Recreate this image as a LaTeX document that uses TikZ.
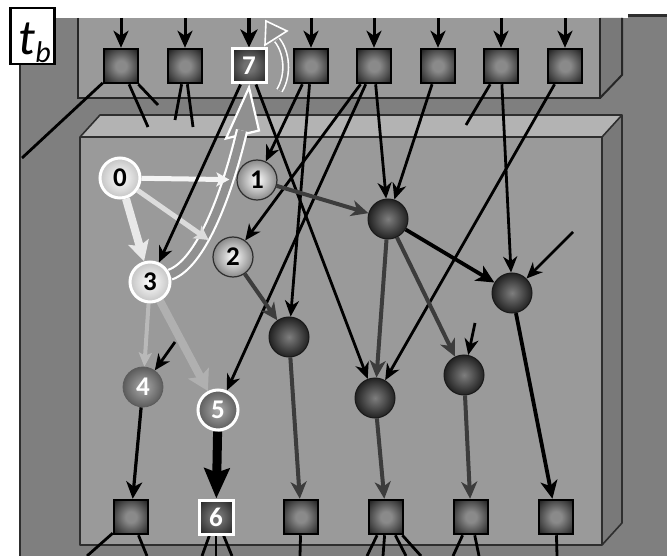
\documentclass[tikz,border=0pt]{standalone}
\usepackage{fontspec}
\setmainfont{Carlito}
\usetikzlibrary{arrows.meta,calc}
\pgfdeclarelayer{back}
\pgfdeclarelayer{light}
\pgfdeclarelayer{hollow}
\pgfdeclarelayer{edges}
\pgfsetlayers{back,hollow,light,edges,main}
\definecolor{outerbg}{HTML}{7F7F7F}
\definecolor{facecol}{HTML}{9A9A9A}
\definecolor{topcol}{HTML}{B3B3B3}
\definecolor{sidecol}{HTML}{797979}
\definecolor{boxline}{HTML}{2E2E2E}
\definecolor{sqin}{HTML}{8A8A8A}
\definecolor{sqout}{HTML}{222222}
\definecolor{sqwin}{HTML}{707070}
\definecolor{darkin}{HTML}{7E7E7E}
\definecolor{darkout}{HTML}{222222}
\definecolor{litout}{HTML}{8A8A8A}
\definecolor{paleout}{HTML}{C4C4C4}
\definecolor{midin}{HTML}{ABABAB}
\definecolor{midout}{HTML}{5C5C5C}
\definecolor{grayedge}{HTML}{3C3C3C}
\definecolor{hollowfill}{HTML}{909090}
\definecolor{wedge}{HTML}{F4F4F4}
\definecolor{wedgeb}{HTML}{DCDCDC}
\definecolor{ledge}{HTML}{B9B9B9}
\pgfdeclareradialshading{sqshade}{\pgfpoint{0bp}{0bp}}{color(0bp)=(sqin); color(8bp)=(sqin); color(34bp)=(sqout); color(50bp)=(sqout)}
\pgfdeclareradialshading{sqwshade}{\pgfpoint{0bp}{0bp}}{color(0bp)=(sqwin); color(8bp)=(sqwin); color(34bp)=(sqout); color(50bp)=(sqout)}
\newcommand{\numb}[1]{{\fontsize{27}{27}\selectfont\bfseries #1}}
\newcommand{\numw}[1]{{\fontsize{27}{27}\selectfont\bfseries\color{white}#1}}
\begin{document}
\begin{tikzpicture}[x=1pt,y=-1pt,
 sq/.style={rectangle, minimum size=34pt, inner sep=0pt, draw=black, line width=2.5pt, shade, shading=sqshade},
 sqw/.style={draw=white, line width=3pt, shading=sqwshade},
 nd/.style={circle, minimum size=40pt, inner sep=0pt},
 pale/.style={nd, draw=white, line width=3pt, inner color=white, outer color=paleout},
 lite/.style={nd, draw=boxline, line width=1.2pt, inner color=white, outer color=litout},
 mid/.style={nd, draw=midout, line width=0.8pt, inner color=midin, outer color=midout},
 midw/.style={nd, draw=white, line width=3pt, inner color=midin, outer color=midout},
 dk/.style={nd, draw=black!90, line width=1pt, inner color=darkin, outer color=darkout},
 ba/.style={draw=black, line width=2.8pt, -{Stealth[length=16pt,width=14pt,inset=5pt]}},
 ia/.style={draw=black, line width=3pt, -{Stealth[length=17pt,width=15pt,inset=5pt]}},
 ga/.style={draw=grayedge, line width=4pt, -{Stealth[length=17pt,width=16pt,inset=5pt]}},
 bt/.style={draw=black, line width=3.8pt, -{Stealth[length=18pt,width=17pt,inset=5pt]}},
 stub/.style={draw=black, line width=2.8pt},
 hollowshaft/.style={draw=white, double=hollowfill},
 hollowhead/.style={draw=white, fill=hollowfill, line join=miter},
]
\useasboundingbox (0,0) rectangle (667,556);
% ---------------- background boxes
\begin{pgfonlayer}{back}
\fill[white] (0,0) rectangle (667,556);
\fill[outerbg] (20,16) rectangle (667,556);
\fill[white] (0,0) rectangle (628,18);
\draw[boxline, line width=3pt] (628,16) -- (667,16);
\draw[boxline, line width=2pt] (20,18) -- (20,556);
% upper box
\fill[facecol] (78,18) rectangle (600,98);
\fill[sidecol] (600,18) -- (622,18) -- (622,75) -- (600,98) -- cycle;
\draw[black!85, line width=2pt] (78,18) -- (78,98) -- (600,98) -- (600,18);
\draw[black!85, line width=2pt] (600,98) -- (622,75) -- (622,18);
% main box
\fill[topcol] (80,137) -- (100,115) -- (622,115) -- (602,137) -- cycle;
\fill[sidecol] (602,137) -- (622,115) -- (622,523) -- (602,545) -- cycle;
\fill[facecol] (80,137) rectangle (602,545);
\draw[boxline, line width=1.6pt, line join=round] (80,137) -- (100,115) -- (622,115) -- (622,523) -- (602,545) -- (80,545) -- cycle;
\draw[boxline, line width=1.6pt] (80,137) -- (602,137) -- (602,545);
\draw[boxline, line width=1.6pt] (602,137) -- (622,115);
\end{pgfonlayer}
% ---------------- label
\node[draw=black, line width=2.5pt, fill=white, minimum width=44pt, minimum height=56pt, inner sep=0pt] (tb) at (32.5,36) {};
\node[anchor=base west, inner sep=0pt] (tbl) at (18,55) {\fontsize{50}{50}\selectfont\itshape t\kern0.5pt\raisebox{-8pt}{\fontsize{30}{30}\selectfont b}};
% ---------------- top squares
\node[sq] (s1) at (121,66) {};
\node[sq] (s2) at (185,66) {};
\node[sq,sqw] (s3) at (249,66) {\numw{7}};
\node[sq] (s4) at (311,66) {};
\node[sq] (s5) at (374,66) {};
\node[sq] (s6) at (438,66) {};
\node[sq] (s7) at (501,66) {};
\node[sq] (s8) at (565,66) {};
% ---------------- bottom squares
\node[sq] (b1) at (131,517) {};
\node[sq,sqw] (b2) at (216,517) {\numw{6}};
\node[sq] (b3) at (301,517) {};
\node[sq] (b4) at (386,517) {};
\node[sq] (b5) at (471,517) {};
\node[sq] (b6) at (556,517) {};
% ---------------- hidden nodes
\node[pale] (n0) at (120,178) {\numb{0}};
\node[lite] (n1) at (257,180) {\numb{1}};
\node[lite] (n2) at (233,257) {\numb{2}};
\node[pale] (n3) at (150,282) {\numb{3}};
\node[mid] (n4) at (143,387) {\numw{4}};
\node[midw] (n5) at (218,410) {\numw{5}};
\node[dk] (A) at (289,337) {};
\node[dk] (B) at (388,219) {};
\node[dk] (C) at (512,293) {};
\node[dk] (D) at (375,398) {};
\node[dk] (E) at (464,375) {};
% ---------------- free ends
\foreach \n/\x in {1/121,2/185,4/311,5/374,6/438,7/501,8/565} {\coordinate (i\n) at (\x,18);}
\coordinate (i3) at (249,18);
\coordinate (e1) at (22,158);
\coordinate (e2) at (148,127);
\coordinate (e3) at (158,105);
\coordinate (e4) at (175,120);
\coordinate (e5) at (193,127);
\coordinate (e6) at (466,125);
\coordinate (f4) at (175,342);
\coordinate (fE) at (475,323);
\coordinate (fC) at (573,232);
\coordinate (o1) at (87,556);
\coordinate (o2) at (147,556);
\coordinate (o3) at (202,556);
\coordinate (o4) at (216,556);
\coordinate (o5) at (232,556);
\coordinate (o6) at (300,556);
\coordinate (o7) at (367,556);
\coordinate (o8) at (383,556);
\coordinate (o9) at (406,556);
\coordinate (o10) at (421,556);
\coordinate (o11) at (453,556);
\coordinate (o12) at (479,556);
\coordinate (o13) at (557,556);
% ---------------- light arrows
\begin{pgfonlayer}{light}
\draw[wedge, line width=5pt, -{Stealth[length=13pt,width=14pt,inset=3pt]}, shorten >=7pt] (n0) -- (n1);
\draw[wedgeb, line width=5pt, -{Stealth[length=14pt,width=15pt,inset=3pt]}, shorten >=9pt] (n0) -- (n2);
\draw[wedge!90!gray, line width=8pt, -{Stealth[length=20pt,width=21pt,inset=4pt]}] (n0) -- (n3);
\draw[ledge, line width=4pt, -{Stealth[length=14pt,width=13pt,inset=3pt]}] (n3) -- (n4);
\draw[ledge!95!black, line width=8pt, -{Stealth[length=20pt,width=23pt,inset=4pt]}] (n3) -- (n5);
\end{pgfonlayer}
% ---------------- hollow arrows
\begin{pgfonlayer}{hollow}
\coordinate (ht) at ($(s3.south)+(0,3)$);
\fill[hollowfill] (ht) -- ($(ht)+(10,43)$) -- ($(ht)+(-23,51)$) -- cycle;
\draw[hollowhead, line width=2.2pt] (ht) -- ($(ht)+(10,43)$) -- ($(ht)+(-23,51)$) -- cycle;
\draw[hollowshaft, line width=2.2pt, double distance=8pt] (n3.20) .. controls (200,264) and (226,198) .. ($(ht)+(-7,43)$);
\coordinate (st) at ($(s3.south east)+(12,6)$);
\coordinate (sh) at (266,21);
\draw[hollowhead, line width=1.6pt] (sh) -- ($(sh)+(21,10)$) -- ($(sh)+(-1,24)$) -- cycle;
\draw[hollowshaft, line width=1.6pt, double distance=4pt] (st) .. controls (289,75) and (287,52) .. ($(sh)+(11,19)$);
\end{pgfonlayer}
% ---------------- edges
\begin{pgfonlayer}{edges}
\foreach \n in {1,2,4,5,6,7,8} {\draw[ia] (i\n) -- (s\n);}
\draw[draw=black, line width=4pt, -{Stealth[length=18pt,width=17pt,inset=5pt]}] (i3) -- (s3);
\draw[stub] (s1) -- (e1);
\draw[stub] (s1) -- (e2);
\draw[stub] (s1) -- (e3);
\draw[stub] (s2) -- (e4);
\draw[stub] (s2) -- (e5);
\draw[stub] (s7) -- (e6);
\draw[ba] (s3) -- (n3);
\draw[ba] (s3) -- (D);
\draw[ba] (s4) -- (n1);
\draw[ba] (s4) -- (A);
\draw[ba] (s5) -- (n2);
\draw[ba] (s5) -- (n5);
\draw[ba] (s5) -- (B);
\draw[ba] (s6) -- (B);
\draw[ba] (s7) -- (C);
\draw[ba] (s8) -- (D);
\draw[ba] (f4) -- (n4);
\draw[ba] (fE) -- (E);
\draw[ba] (fC) -- (C);
\draw[ga] (n1) -- (B);
\draw[ga] (n2) -- (A);
\draw[ga] (B) -- (D);
\draw[ga] (B) -- (E);
\draw[ga] (A) -- (b3);
\draw[ga] (D) -- (b4);
\draw[ga] (E) -- (b5);
\draw[bt] (B) -- (C);
\draw[bt] (C) -- (b6);
\draw[draw=black, line width=3.2pt, -{Stealth[length=17pt,width=16pt,inset=5pt]}] (n4) -- (b1);
\draw[draw=black, line width=9pt, -{Stealth[length=30pt,width=25pt,inset=4pt]}] (n5) -- (b2);
\draw[stub] (b1) -- (o1);
\draw[stub] (b1) -- (o2);
\draw[stub] (b2) -- (o3);
\draw[stub] (b2) -- (o4);
\draw[stub] (b2) -- (o5);
\draw[stub] (b3) -- (o6);
\draw[stub] (b4) -- (o7);
\draw[stub] (b4) -- (o8);
\draw[stub] (b4) -- (o9);
\draw[stub] (b4) -- (o10);
\draw[stub] (b5) -- (o11);
\draw[stub] (b5) -- (o12);
\draw[stub] (b6) -- (o13);
\end{pgfonlayer}
\end{tikzpicture}
\end{document}
